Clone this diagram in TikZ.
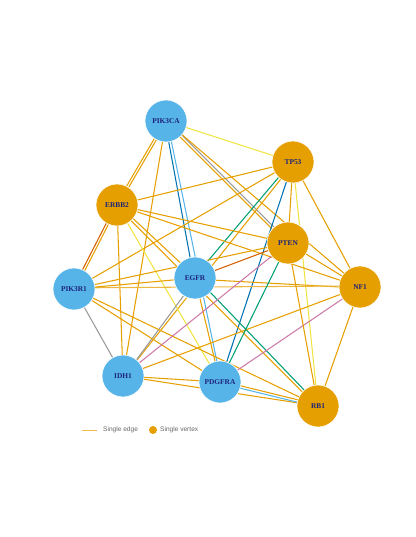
\documentclass[tikz,border=0pt]{standalone}
\usepackage{fontspec}
\setmainfont{Liberation Serif}
\newfontfamily\legendfont{Liberation Sans}
\usetikzlibrary{calc,backgrounds}
\definecolor{cOr}{HTML}{E69F00}
\definecolor{cSky}{HTML}{56B4E9}
\definecolor{cGreen}{HTML}{009E73}
\definecolor{cYel}{HTML}{F0E442}
\definecolor{cBlue}{HTML}{0072B2}
\definecolor{cVer}{HTML}{D55E00}
\definecolor{cPink}{HTML}{CC79A7}
\definecolor{cGrey}{HTML}{999999}
\definecolor{cText}{HTML}{1C237A}
\tikzset{
  gene/.style={circle, minimum size=42bp, inner sep=0pt, draw=white, line width=0.6bp,
    font=\fontsize{7.4}{8}\selectfont\bfseries, text=cText},
  bluegene/.style={gene, fill=cSky},
  orgene/.style={gene, fill=cOr},
  edge/.style={line width=1.05bp},
  eor/.style={edge, cOr},
  eorlight/.style={edge, cOr!75},
  esky/.style={edge, cSky},
  egreen/.style={edge, cGreen},
  eyel/.style={edge, cYel},
  eblue/.style={edge, cBlue},
  ever/.style={edge, cVer},
  epink/.style={edge, cPink},
  egrey/.style={edge, cGrey},
  legtext/.style={font=\legendfont\fontsize{6.6}{7}\selectfont, text=black!60, anchor=west, inner sep=0pt}
}
\newcommand{\offedge}[4]{% style, a, b, offset
  \draw[#1] ($(#2.center)!#4!90:(#3.center)$) -- ($(#3.center)!#4!-90:(#2.center)$);}
\begin{document}
\begin{tikzpicture}[x=1bp,y=-1bp]
\useasboundingbox (0,0) rectangle (415,537);
% nodes
\node[bluegene] (A) at (166,121) {PIK3CA};
\node[orgene]   (T) at (293,162) {TP53};
\node[orgene]   (E2) at (117,205) {ERBB2};
\node[orgene]   (P) at (288,243) {PTEN};
\node[bluegene] (G) at (195,278) {EGFR};
\node[orgene]   (N) at (360,287) {NF1};
\node[bluegene] (R) at (74,289) {PIK3R1};
\node[bluegene] (I) at (123,376) {IDH1};
\node[bluegene] (D) at (220,382) {PDGFRA};
\node[orgene]   (B) at (318,406) {RB1};
% legend
\coordinate (l1) at (82,430);
\coordinate (l2) at (97,430);
\draw[line width=1bp, cOr!70] (l1) -- (l2);
\node[legtext] (lt1) at (103,430) {Single edge};
\node[circle, fill=cOr, minimum size=8bp, inner sep=0pt] (ld) at (153,430) {};
\node[legtext] (lt2) at (160,430) {Single vertex};
\begin{scope}[on background layer]
% PIK3CA
\draw[eyel] (A.center) -- (T.center);
\offedge{egrey}{A}{P}{1.3bp}
\offedge{eor}{A}{P}{-1.3bp}
\draw[eor] (A.center) -- (N.center);
\offedge{eor}{A}{E2}{1.2bp}
\offedge{eor}{A}{E2}{-1.2bp}
\draw[eor] (A.center) -- (I.center);
\offedge{eblue}{A}{G}{-1.1bp}
\offedge{esky}{A}{D}{1.1bp}
% TP53
\draw[eor] (T.center) -- (E2.center);
\draw[eor] (T.center) -- (R.center);
\offedge{egreen}{T}{G}{-1.1bp}
\offedge{eor}{T}{I}{1.1bp}
\draw[eblue] (T.center) -- (D.center);
\draw[eor] (T.center) -- (P.center);
\draw[eyel] (T.center) -- (B.center);
\draw[eor] (T.center) -- (N.center);
% ERBB2
\draw[eor] (E2.center) -- (P.center);
\draw[eor] (E2.center) -- (N.center);
\offedge{eor}{E2}{G}{1.1bp}
\offedge{eor}{E2}{B}{-1.1bp}
\draw[eyel] (E2.center) -- (D.center);
\draw[eor] (E2.center) -- (I.center);
\offedge{eor}{E2}{R}{1.2bp}
\offedge{ever}{E2}{R}{-1.2bp}
% EGFR
\draw[ever] (G.center) -- (P.center);
\offedge{eor}{G}{N}{-1.1bp}
\offedge{egrey}{G}{I}{1.3bp}
\draw[eor] (G.center) -- (D.center);
\offedge{egreen}{G}{B}{1.1bp}
% PIK3R1
\offedge{eorlight}{R}{N}{1.1bp}
\draw[eor] (R.center) -- (G.center);
\draw[eor] (R.center) -- (P.center);
\draw[eor] (R.center) -- (D.center);
\draw[eor] (R.center) -- (B.center);
\draw[egrey] (R.center) -- (I.center);
% others
\draw[epink] (I.center) -- (P.center);
\draw[epink] (D.center) -- (N.center);
\draw[eor] (I.center) -- (N.center);
\draw[eor] (I.center) -- (D.center);
\draw[eor] (I.center) -- (B.center);
\draw[egreen] (P.center) -- (D.center);
\draw[eor] (P.center) -- (N.center);
\draw[eor] (P.center) -- (B.center);
\draw[eor] (N.center) -- (B.center);
\offedge{esky}{D}{B}{-1.2bp}
\offedge{eor}{D}{B}{1.2bp}
\end{scope}
\end{tikzpicture}
\end{document}
